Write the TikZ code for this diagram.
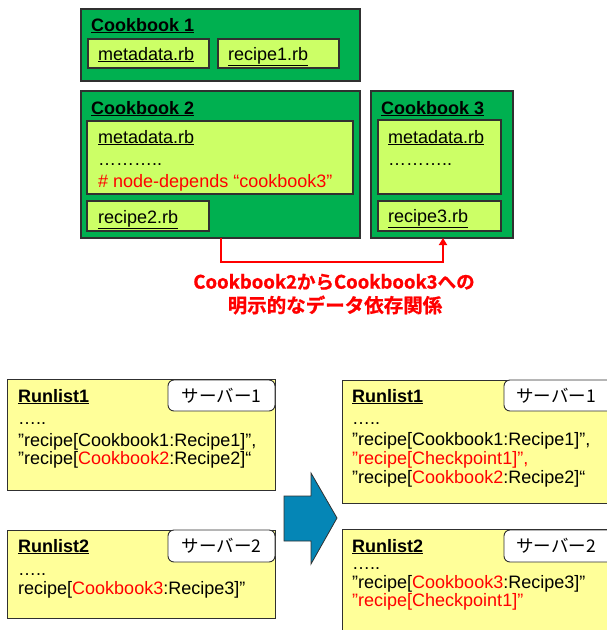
\documentclass[tikz,border=0pt]{standalone}
\usepackage{fontspec}
\setmainfont{Liberation Sans}
\newfontfamily\jpfont{Noto Sans CJK JP}
\newfontfamily\jpbold[FakeBold=1]{Noto Sans CJK JP Bold}
\usetikzlibrary{arrows.meta}
\definecolor{cbgreen}{HTML}{00B050}
\definecolor{cblight}{HTML}{CCFF66}
\definecolor{rlyellow}{HTML}{FFFF99}
\definecolor{arrblue}{HTML}{0586B6}
\definecolor{edgegray}{HTML}{303030}
\tikzset{
  cookbox/.style={draw=edgegray, line width=1.3pt, fill=cbgreen},
  filebox/.style={draw=edgegray, line width=1.1pt, fill=cblight},
  runbox/.style={draw=edgegray, line width=0.9pt, fill=rlyellow},
  srvbox/.style={draw=edgegray, line width=0.9pt, fill=white, rounded corners=6pt},
  ttl/.style={anchor=base west, inner sep=0pt, font=\fontsize{18}{20}\selectfont\bfseries},
  ftxt/.style={anchor=base west, inner sep=0pt, font=\fontsize{18}{20}\selectfont},
  rtxt/.style={anchor=base west, inner sep=0pt, font=\fontsize{18}{19}\selectfont},
  rttl/.style={anchor=base west, inner sep=0pt, font=\fontsize{18}{19}\selectfont\bfseries},
  srvtxt/.style={inner sep=0pt, font=\fontsize{17.5}{19}\selectfont\jpfont},
  redtxt/.style={inner sep=0pt, text=red},
}
\newcommand{\ul}[1]{\underline{#1}}
\newcommand{\qd}{\char34\relax}
\begin{document}
\begin{tikzpicture}[x=1pt,y=-1pt]
\useasboundingbox (0,0) rectangle (607,630);
% Cookbook 1
\draw[cookbox] (81,9) rectangle (360,81);
\node[ttl] (cb1t) at (91,31) {\ul{Cookbook 1}};
\draw[filebox] (88,39) rectangle (209,68);
\node[ftxt] (cb1m) at (98,60) {\ul{metadata.rb}};
\draw[filebox] (218,39) rectangle (339,68);
\node[ftxt] (cb1r) at (228,60) {\ul{recipe1.rb}};
% Cookbook 2
\draw[cookbox] (81,91) rectangle (360,238);
\node[ttl] (cb2t) at (91,114) {\ul{Cookbook 2}};
\draw[filebox] (87,121) rectangle (353,194);
\node[ftxt] (cb2m) at (98,143) {\ul{metadata.rb}};
\node[ftxt] (cb2d) at (98,165) {………..};
\node[ftxt, text=red] (cb2n) at (98,187) {\# node-depends “cookbook3”};
\draw[filebox] (87,201) rectangle (209,231);
\coordinate (cb2bot) at (220.5,238);
\node[ftxt] (cb2r) at (98,223) {\ul{recipe2.rb}};
% Cookbook 3
\draw[cookbox] (371,91) rectangle (513,238);
\node[ttl] (cb3t) at (381,114) {\ul{Cookbook 3}};
\draw[filebox] (378,120) rectangle (501,194);
\node[ftxt] (cb3m) at (388,143) {\ul{metadata.rb}};
\node[ftxt] (cb3d) at (388,165) {………..};
\draw[filebox] (378,201) rectangle (501,231);
\node[ftxt] (cb3r) at (388,222) {\ul{recipe3.rb}};
\coordinate (cb3bot) at (443,238);
% dependency arrow
\coordinate (dep1) at (220.5,262);
\coordinate (dep2) at (443,262);
\draw[red, line width=2pt, -{Triangle[length=7pt,width=8pt]}] (cb2bot) -- (dep1) -- (dep2) -- (cb3bot);
\node[redtxt, font=\fontsize{18.5}{21}\selectfont\jpbold] (dl1) at (334,282) {Cookbook2からCookbook3への};
\node[redtxt, font=\fontsize{19.5}{21}\selectfont\jpbold] (dl2) at (335,305) {明示的なデータ依存関係};
% Left runlist 1
\draw[runbox] (7,379) rectangle (275,490);
\draw[srvbox] (168,380) rectangle (275,411);
\node[srvtxt] (s1) at (221.5,396) {サーバー1};
\node[rttl] (l1t) at (18,402) {\ul{Runlist1}};
\node[rtxt] (l1a) at (18,424) {…..};
\node[rtxt] (l1b) at (18,446) {\qd recipe[Cookbook1:Recipe1]\qd,};
\node[rtxt] (l1c) at (18,464) {\qd recipe[\textcolor{red}{Cookbook2}:Recipe2]“};
% Left runlist 2
\draw[runbox] (7,530) rectangle (275,618);
\draw[srvbox] (168,530) rectangle (275,562);
\node[srvtxt] (s2) at (221.5,546) {サーバー2};
\node[rttl] (l2t) at (18,552) {\ul{Runlist2}};
\node[rtxt] (l2a) at (18,575) {…..};
\node[rtxt] (l2b) at (18,594) {recipe[\textcolor{red}{Cookbook3}:Recipe3]\qd};
% big arrow
\draw[fill=arrblue, draw=edgegray, line width=0.8pt] (284,496) -- (311,496) -- (311,473) -- (337,518) -- (311,564) -- (311,541) -- (284,541) -- cycle;
% Right runlist 1
\draw[runbox] (342,380) rectangle (615,503);
\draw[srvbox] (504,380) rectangle (615,411);
\node[srvtxt, anchor=west] (s3) at (516,396) {サーバー1};
\node[rttl] (r1t) at (352,402) {\ul{Runlist1}};
\node[rtxt] (r1a) at (352,424) {…..};
\node[rtxt] (r1b) at (352,445) {\qd recipe[Cookbook1:Recipe1]\qd,};
\node[rtxt, text=red] (r1c) at (352,464) {\qd recipe[Checkpoint1]\qd,};
\node[rtxt] (r1d) at (352,483) {\qd recipe[\textcolor{red}{Cookbook2}:Recipe2]“};
% Right runlist 2
\draw[runbox] (342,529) rectangle (615,640);
\draw[srvbox] (504,530) rectangle (615,562);
\node[srvtxt, anchor=west] (s4) at (516,546) {サーバー2};
\node[rttl] (r2t) at (352,552) {\ul{Runlist2}};
\node[rtxt] (r2a) at (352,569) {…..};
\node[rtxt] (r2b) at (352,588) {\qd recipe[\textcolor{red}{Cookbook3}:Recipe3]\qd};
\node[rtxt, text=red] (r2c) at (352,606) {\qd recipe[Checkpoint1]\qd};
\end{tikzpicture}
\end{document}
